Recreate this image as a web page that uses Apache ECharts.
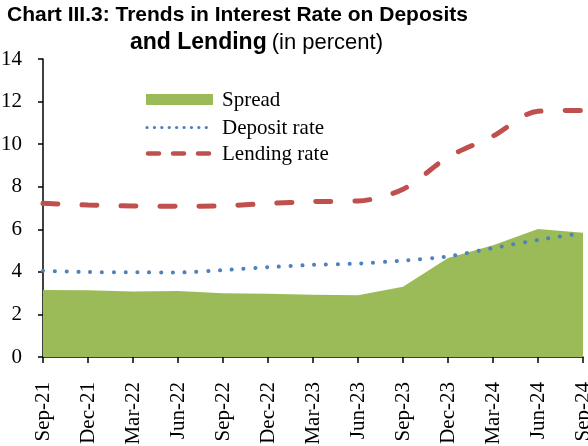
<!DOCTYPE html>
<html>
<head>
<meta charset="utf-8">
<script src="https://cdn.jsdelivr.net/npm/echarts@6/dist/echarts.min.js"></script>
<style>
html,body{margin:0;padding:0;background:#fff;}
#chart{width:588px;height:446px;}
</style>
</head>
<body>
<div id="chart"></div>
<script>
var categories = ['Sep-21','Dec-21','Mar-22','Jun-22','Sep-22','Dec-22','Mar-23','Jun-23','Sep-23','Dec-23','Mar-24','Jun-24','Sep-24'];
var spread = [3.15, 3.14, 3.08, 3.10, 3.00, 2.97, 2.93, 2.90, 3.30, 4.65, 5.25, 6.01, 5.84];
var depositRate = [4.05, 3.99, 3.98, 3.97, 4.08, 4.22, 4.33, 4.39, 4.53, 4.72, 5.12, 5.50, 5.82];
var lendingRate = [7.22, 7.14, 7.09, 7.08, 7.10, 7.21, 7.30, 7.33, 7.88, 9.39, 10.38, 11.55, 11.58];
var yTicks = {min: 0, max: 14, interval: 2};
var titleLine1 = 'Chart III.3: Trends in Interest Rate on Deposits';
var titleLine2Bold = 'and Lending';
var titleLine2Normal = '(in percent)';
var legendNames = ['Spread', 'Deposit rate', 'Lending rate'];

var serif = "'Liberation Serif', 'Times New Roman', serif";
var sans = "'Liberation Sans', Arial, sans-serif";
var green = '#9BBB59', blue = '#4F81BD', red = '#C0504D';

var chart = echarts.init(document.getElementById('chart'), null, {renderer: 'canvas'});
chart.setOption({
  backgroundColor: '#ffffff',
  animation: false,
  title: [
    {text: titleLine1, left: 7, top: 5, padding: 0,
     textStyle: {fontFamily: sans, fontSize: 21, fontWeight: 'bold', color: '#000'}},
    {text: '{b|' + titleLine2Bold + '} {n|' + titleLine2Normal + '}', left: 130, top: 31, padding: 0,
     textStyle: {rich: {
       b: {fontFamily: sans, fontSize: 23, fontWeight: 'bold', color: '#000'},
       n: {fontFamily: sans, fontSize: 22, fontWeight: 'normal', color: '#000'}
     }}}
  ],
  grid: {left: 43, right: 5, top: 59, bottom: 89, containLabel: false, outerBoundsMode: 'none'},
  xAxis: {
    type: 'category', data: categories, boundaryGap: false,
    axisLine: {lineStyle: {color: '#000', width: 1.5}},
    axisTick: {show: true, length: 6, lineStyle: {color: '#000', width: 1.5}},
    axisLabel: {rotate: 90, margin: 25, fontFamily: serif, fontSize: 21, color: '#000', interval: 0},
    splitLine: {show: false}
  },
  yAxis: {
    type: 'value', min: yTicks.min, max: yTicks.max, interval: yTicks.interval,
    axisLine: {show: true, lineStyle: {color: '#000', width: 1.5}},
    axisTick: {show: true, length: 5, lineStyle: {color: '#000', width: 1.5}},
    axisLabel: {margin: 21, fontFamily: serif, fontSize: 21, color: '#000'},
    splitLine: {show: false}
  },
  series: [
    {name: legendNames[0], type: 'line', data: spread, symbol: 'none',
     lineStyle: {width: 0, color: green}, areaStyle: {color: green, opacity: 1}, z: 1},
    {name: legendNames[1], type: 'line', data: depositRate, symbol: 'none', smooth: 0.2,
     lineStyle: {width: 4, color: blue, type: [0.1, 11.7], cap: 'round'}, z: 3},
    {name: legendNames[2], type: 'line', data: lendingRate, symbol: 'none', smooth: 0.3,
     lineStyle: {width: 5, color: red, type: [15, 24], cap: 'round'}, z: 4}
  ],
  graphic: [
    {type: 'rect', shape: {x: 146, y: 94, width: 67, height: 11}, style: {fill: green}},
    {type: 'text', x: 222, y: 100, style: {text: legendNames[0], font: '21px ' + serif, fill: '#000', textVerticalAlign: 'middle'}},
    {type: 'line', shape: {x1: 147, y1: 127.5, x2: 213, y2: 127.5},
     style: {stroke: blue, lineWidth: 3.2, lineDash: [0.1, 7.3], lineCap: 'round'}},
    {type: 'text', x: 222, y: 128, style: {text: legendNames[1], font: '21px ' + serif, fill: '#000', textVerticalAlign: 'middle'}},
    {type: 'line', shape: {x1: 148, y1: 153.5, x2: 213, y2: 153.5},
     style: {stroke: red, lineWidth: 4.5, lineDash: [11, 14], lineCap: 'round'}},
    {type: 'text', x: 222, y: 154, style: {text: legendNames[2], font: '21px ' + serif, fill: '#000', textVerticalAlign: 'middle'}}
  ]
});
</script>
</body>
</html>
